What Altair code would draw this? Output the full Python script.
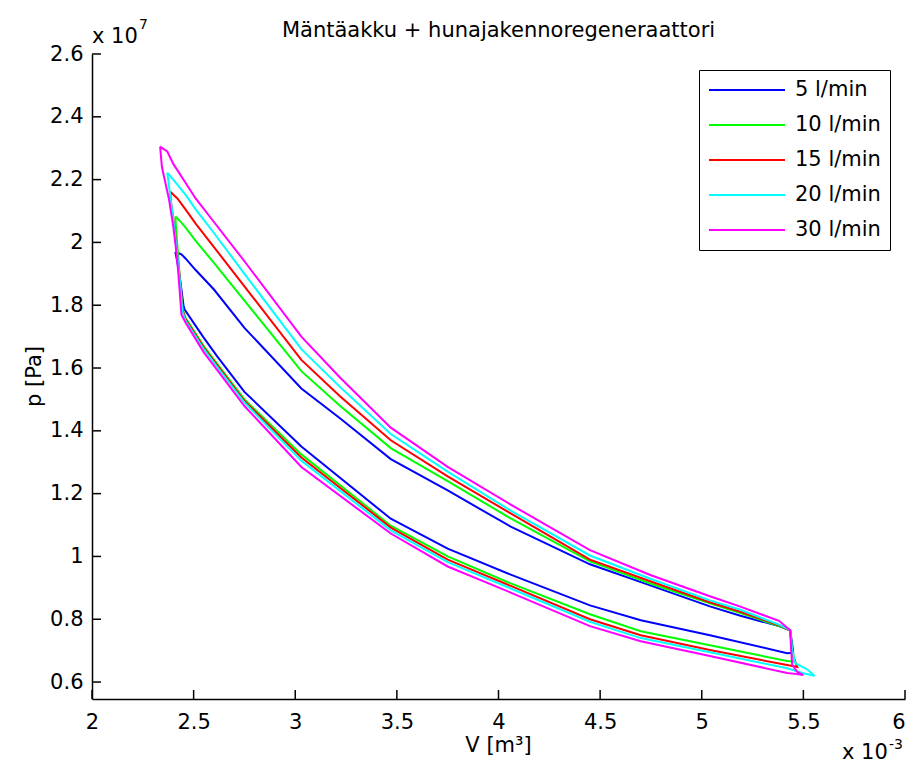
import altair as alt
import pandas as pd

SERIES = ["5 l/min", "10 l/min", "15 l/min", "20 l/min", "30 l/min"]
COLORS = ["#0000ff", "#00ff00", "#ff0000", "#00ffff", "#ff00ff"]

# Each loop: peak -> upper branch -> right drop -> lower branch -> left side (V in 1e-3 m^3, p in 1e7 Pa)
V_5 = [2.41, 2.44, 2.46, 2.51, 2.60, 2.75, 3.03, 3.22, 3.47, 3.75, 4.06, 4.45, 4.75, 5.04, 5.19, 5.38, 5.435,
       5.445, 5.45,
       5.42, 5.04, 4.70, 4.45, 4.06, 3.75, 3.47, 3.03, 2.75, 2.615, 2.546, 2.455,
       2.45, 2.44, 2.425, 2.41]
P_5 = [1.97, 1.962, 1.949, 1.912, 1.85, 1.728, 1.535, 1.44, 1.31, 1.21, 1.095, 0.975, 0.907, 0.841, 0.811, 0.778, 0.765,
       0.72, 0.693,
       0.692, 0.749, 0.797, 0.844, 0.942, 1.025, 1.12, 1.35, 1.524, 1.638, 1.70, 1.787,
       1.80, 1.85, 1.92, 1.97]

V_10 = [2.41, 2.43, 2.46, 2.51, 2.60, 2.75, 3.03, 3.22, 3.47, 3.75, 4.06, 4.45, 4.75, 5.04, 5.19, 5.38, 5.435,
        5.445, 5.46,
        5.42, 5.04, 4.70, 4.45, 4.06, 3.75, 3.47, 3.03, 2.75, 2.62, 2.55, 2.46,
        2.445, 2.435, 2.425, 2.415, 2.41]
P_10 = [2.083, 2.07, 2.048, 2.005, 1.935, 1.815, 1.59, 1.48, 1.345, 1.24, 1.121, 0.984, 0.913, 0.851, 0.82, 0.778, 0.765,
        0.70, 0.665,
        0.667, 0.717, 0.762, 0.816, 0.914, 1.0, 1.098, 1.325, 1.50, 1.61, 1.67, 1.76,
        1.79, 1.86, 1.95, 2.03, 2.083]

V_15 = [2.384, 2.42, 2.46, 2.51, 2.60, 2.75, 3.03, 3.22, 3.47, 3.75, 4.06, 4.45, 4.75, 5.04, 5.19, 5.38, 5.435,
        5.445, 5.47,
        5.42, 5.04, 4.70, 4.45, 4.06, 3.75, 3.47, 3.03, 2.75, 2.62, 2.55, 2.46,
        2.445, 2.435, 2.42, 2.405, 2.39, 2.384]
P_15 = [2.162, 2.14, 2.105, 2.06, 1.985, 1.86, 1.626, 1.51, 1.37, 1.255, 1.137, 0.99, 0.92, 0.854, 0.824, 0.781, 0.765,
        0.69, 0.648,
        0.654, 0.702, 0.749, 0.80, 0.906, 0.99, 1.092, 1.315, 1.495, 1.605, 1.665, 1.755,
        1.785, 1.87, 1.96, 2.05, 2.12, 2.162]

V_20 = [2.37, 2.40, 2.46, 2.51, 2.60, 2.75, 3.03, 3.22, 3.47, 3.75, 4.06, 4.45, 4.75, 5.04, 5.19, 5.38, 5.435,
        5.445, 5.46, 5.52, 5.555, 5.50,
        5.42, 5.04, 4.70, 4.45, 4.06, 3.75, 3.47, 3.03, 2.75, 2.62, 2.55, 2.46,
        2.445, 2.435, 2.42, 2.40, 2.385, 2.37]
P_20 = [2.222, 2.20, 2.152, 2.105, 2.03, 1.90, 1.66, 1.54, 1.39, 1.27, 1.146, 1.003, 0.928, 0.86, 0.83, 0.783, 0.765,
        0.70, 0.66, 0.64, 0.62, 0.628,
        0.644, 0.695, 0.74, 0.792, 0.898, 0.982, 1.083, 1.305, 1.49, 1.60, 1.66, 1.75,
        1.78, 1.86, 1.96, 2.07, 2.15, 2.222]

V_30 = [2.335, 2.37, 2.40, 2.46, 2.51, 2.60, 2.75, 3.03, 3.22, 3.47, 3.75, 4.06, 4.45, 4.75, 5.04, 5.19, 5.38, 5.435,
        5.44, 5.445, 5.47, 5.50, 5.46,
        5.42, 5.04, 4.70, 4.45, 4.06, 3.75, 3.47, 3.03, 2.75, 2.62, 2.55, 2.46,
        2.44, 2.425, 2.415, 2.40, 2.378, 2.344, 2.335]
P_30 = [2.305, 2.29, 2.25, 2.19, 2.14, 2.065, 1.94, 1.70, 1.57, 1.41, 1.285, 1.165, 1.02, 0.94, 0.873, 0.84, 0.795, 0.765,
        0.70, 0.655, 0.632, 0.622, 0.626,
        0.629, 0.683, 0.73, 0.778, 0.885, 0.968, 1.073, 1.285, 1.479, 1.59, 1.65, 1.745,
        1.77, 1.90, 1.97, 2.05, 2.14, 2.24, 2.305]

X_TICKS = [2, 2.5, 3, 3.5, 4, 4.5, 5, 5.5, 6]
Y_TICKS = [0.6, 0.8, 1.0, 1.2, 1.4, 1.6, 1.8, 2.0, 2.2, 2.4, 2.6]

TITLE = "Mäntäakku + hunajakennoregeneraattori"
X_TITLE = "V [m³]"
Y_TITLE = "p [Pa]"

rows = []
for name, vs, ps in zip(SERIES, [V_5, V_10, V_15, V_20, V_30], [P_5, P_10, P_15, P_20, P_30]):
    for i, (v, p) in enumerate(zip(vs, ps)):
        rows.append({"series": name, "V": v, "p": p, "i": i})
df = pd.DataFrame(rows)

W, H = 813, 645
FONT = "DejaVu Sans"
FS = 21

xscale = alt.Scale(domain=[2, 6], nice=False, zero=False)
yscale = alt.Scale(domain=[0.546, 2.6], nice=False, zero=False)

xaxis = alt.Axis(values=X_TICKS, format="~g", title=None, ticks=False, labelPadding=12,
                 labelFontSize=FS, labelFont=FONT, domainWidth=1.5,
                 labelAlign=alt.condition("datum.value >= 6", alt.value("right"), alt.value("center")))
yaxis = alt.Axis(values=Y_TICKS, format="~g", title=None, ticks=False, labelPadding=9,
                 labelFontSize=FS, labelFont=FONT, domainWidth=1.5)

lines = alt.Chart(df).mark_line(strokeWidth=2).encode(
    x=alt.X("V:Q", scale=xscale, axis=xaxis),
    y=alt.Y("p:Q", scale=yscale, axis=yaxis),
    color=alt.Color("series:N", sort=SERIES,
                    scale=alt.Scale(domain=SERIES, range=COLORS),
                    legend=alt.Legend(title=None, orient="none", legendX=607, legendY=16,
                                      direction="vertical", strokeColor="black", fillColor="white",
                                      padding=9, symbolType="stroke", symbolSize=5776,
                                      symbolStrokeWidth=2, clipHeight=22, rowPadding=13,
                                      labelFontSize=FS, labelFont=FONT, labelOffset=9,
                                      labelColor="black")),
    order=alt.Order("i:Q"),
)

xt = alt.Chart(pd.DataFrame({"V": X_TICKS})).mark_rule(color="black", strokeWidth=1.5).encode(
    x=alt.X("V:Q", scale=xscale, axis=xaxis), y=alt.value(H), y2=alt.value(H - 9))
yt = alt.Chart(pd.DataFrame({"p": Y_TICKS})).mark_rule(color="black", strokeWidth=1.5).encode(
    y=alt.Y("p:Q", scale=yscale, axis=yaxis), x=alt.value(0), x2=alt.value(9))

def txt(s, x, y, size=FS, **kw):
    return alt.Chart(pd.DataFrame({"s": [s]})).mark_text(
        font=FONT, fontSize=size, color="black", **kw).encode(
        text="s:N", x=alt.value(x), y=alt.value(y))

title = txt(TITLE, W / 2, -17, align="center", baseline="alphabetic")
xlab = txt(X_TITLE, W / 2, 698, align="center", baseline="alphabetic")
ylab = txt(Y_TITLE, -57, H / 2, align="center", baseline="middle", angle=270)
ye1 = txt("x 10", 0, -11, align="left", baseline="alphabetic")
ye2 = txt("7", 47, -25, size=14, align="left", baseline="alphabetic")
xe1 = txt("x 10", 750, 705, align="left", baseline="alphabetic")
xe2 = txt("-3", 797, 695, size=14, align="left", baseline="alphabetic")

chart = alt.layer(lines, xt, yt, title, xlab, ylab, ye1, ye2, xe1, xe2).properties(
    width=W, height=H, autosize="none",
    padding={"left": 84, "top": 46, "right": 1, "bottom": 69},
).configure_view(stroke=None).configure_axis(
    grid=False, domainColor="black", labelColor="black")

chart.save("out.html", embed_options={"renderer": "svg", "actions": False})
